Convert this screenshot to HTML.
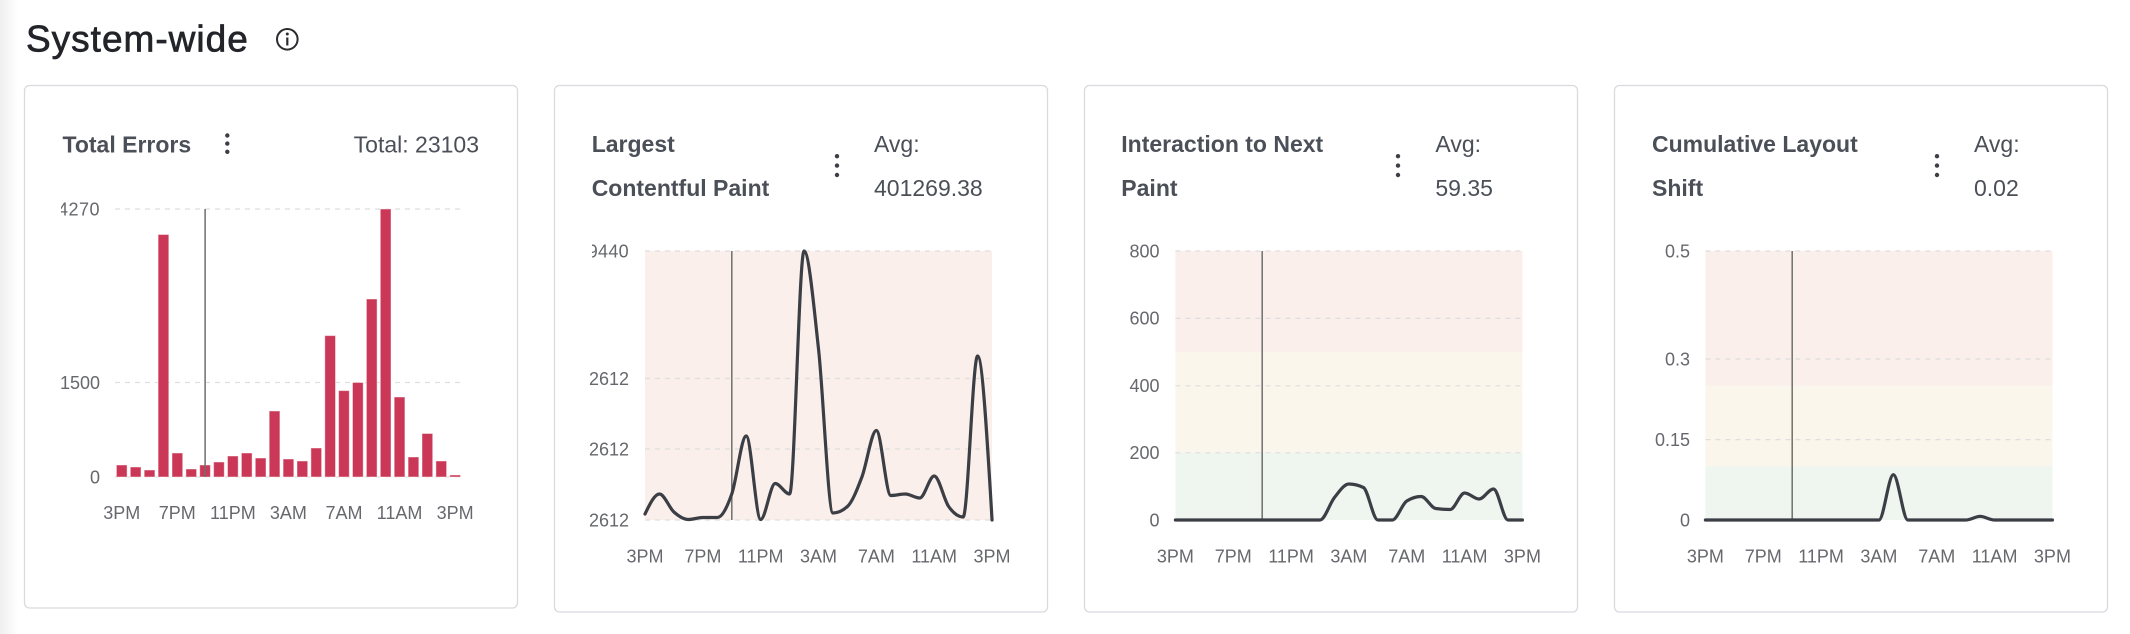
<!DOCTYPE html>
<html>
<head>
<meta charset="utf-8">
<style>
html,body{margin:0;padding:0;background:#fff;}
body{width:2130px;height:634px;overflow:hidden;}
svg{display:block;font-family:"Liberation Sans",sans-serif;}
.ax{font-size:18px;fill:#67686d;}
.tt{font-size:23px;font-weight:bold;fill:#4b4f57;}
.tv{font-size:23px;fill:#4b4f57;}
.grid{stroke:#dedede;stroke-width:1.2;stroke-dasharray:5 5;fill:none;}
.vl{stroke:#6f6f6f;stroke-width:1.5;}
.ln{fill:none;stroke:#3b3e45;stroke-width:3.2;stroke-linejoin:round;stroke-linecap:round;}
.card{fill:#fff;stroke:#d9dae0;stroke-width:1.3;}
.bar{fill:#cb3857;stroke:rgba(255,255,255,0.45);stroke-width:1;}
.dot{fill:#3c3f46;}
</style>
</head>
<body>
<svg width="2130" height="634" viewBox="0 0 2130 634" xmlns="http://www.w3.org/2000/svg">
<defs>
<linearGradient id="lg" x1="0" x2="1" y1="0" y2="0">
<stop offset="0" stop-color="#efeff1"/>
<stop offset="1" stop-color="#ffffff"/>
</linearGradient>
<clipPath id="c1"><rect x="61" y="0" width="460" height="634"/></clipPath>
<clipPath id="c2"><rect x="592" y="0" width="460" height="634"/></clipPath>
</defs>
<rect x="0" y="0" width="18" height="634" fill="url(#lg)"/>

<!-- Title -->
<text x="26" y="51.7" font-size="37" letter-spacing="1" fill="#222429" stroke="#222429" stroke-width="0.7">System-wide</text>
<circle cx="287.3" cy="39.3" r="10.3" fill="none" stroke="#2a2c30" stroke-width="2"/>
<circle cx="287.3" cy="34" r="1.5" fill="#2a2c30"/>
<line x1="287.3" y1="37.5" x2="287.3" y2="45.5" stroke="#2a2c30" stroke-width="2.2"/>

<!-- Cards -->
<rect class="card" x="24.5" y="85.5" width="493" height="522.5" rx="5"/>
<rect class="card" x="554.5" y="85.5" width="493" height="526.5" rx="5"/>
<rect class="card" x="1084.5" y="85.5" width="493" height="526.5" rx="5"/>
<rect class="card" x="1614.5" y="85.5" width="493" height="526.5" rx="5"/>

<!-- ===== Card 1 ===== -->
<text class="tt" x="62.5" y="152.3">Total Errors</text>
<circle class="dot" cx="227.3" cy="135.5" r="2.2"/>
<circle class="dot" cx="227.3" cy="143.6" r="2.2"/>
<circle class="dot" cx="227.3" cy="151.8" r="2.2"/>
<text class="tv" x="479" y="152.3" text-anchor="end">Total: 23103</text>

<line class="grid" x1="115" y1="209" x2="463" y2="209"/>
<line class="grid" x1="115" y1="382.5" x2="463" y2="382.5"/>
<line class="grid" x1="115" y1="477" x2="463" y2="477"/>
<g clip-path="url(#c1)">
<text class="ax" x="100" y="215.3" text-anchor="end" letter-spacing="0.5">4270</text>
</g>
<text class="ax" x="100" y="388.8" text-anchor="end">1500</text>
<text class="ax" x="100" y="483.3" text-anchor="end">0</text>

<g>
<rect class="bar" x="116.4" y="465" width="10.7" height="12"/>
<rect class="bar" x="130.3" y="467" width="10.7" height="10"/>
<rect class="bar" x="144.2" y="470" width="10.7" height="7"/>
<rect class="bar" x="158.1" y="234.5" width="10.7" height="242.5"/>
<rect class="bar" x="172.0" y="453" width="10.7" height="24"/>
<rect class="bar" x="185.9" y="469" width="10.7" height="8"/>
<rect class="bar" x="199.7" y="465" width="10.7" height="12"/>
<rect class="bar" x="213.6" y="462" width="10.7" height="15"/>
<rect class="bar" x="227.5" y="456" width="10.7" height="21"/>
<rect class="bar" x="241.4" y="453" width="10.7" height="24"/>
<rect class="bar" x="255.3" y="458" width="10.7" height="19"/>
<rect class="bar" x="269.2" y="411" width="10.7" height="66"/>
<rect class="bar" x="283.1" y="459" width="10.7" height="18"/>
<rect class="bar" x="297.0" y="461" width="10.7" height="16"/>
<rect class="bar" x="310.9" y="448" width="10.7" height="29"/>
<rect class="bar" x="324.8" y="335.6" width="10.7" height="141.4"/>
<rect class="bar" x="338.6" y="390.6" width="10.7" height="86.4"/>
<rect class="bar" x="352.5" y="382.5" width="10.7" height="94.5"/>
<rect class="bar" x="366.4" y="299" width="10.7" height="178"/>
<rect class="bar" x="380.3" y="209" width="10.7" height="268"/>
<rect class="bar" x="394.2" y="397" width="10.7" height="80"/>
<rect class="bar" x="408.1" y="457" width="10.7" height="20"/>
<rect class="bar" x="422.0" y="433.5" width="10.7" height="43.5"/>
<rect class="bar" x="435.9" y="461" width="10.7" height="16"/>
<rect class="bar" x="449.8" y="475" width="10.7" height="2"/>
</g>
<line class="vl" x1="205.1" y1="209" x2="205.1" y2="477"/>

<g class="ax" text-anchor="middle">
<text x="121.75" y="519">3PM</text>
<text x="177.3" y="519">7PM</text>
<text x="232.9" y="519">11PM</text>
<text x="288.4" y="519">3AM</text>
<text x="344" y="519">7AM</text>
<text x="399.5" y="519">11AM</text>
<text x="455.1" y="519">3PM</text>
</g>

<!-- ===== Card 2 ===== -->
<text class="tt" x="591.7" y="152.2">Largest</text>
<text class="tt" x="591.7" y="196.2">Contentful Paint</text>
<circle class="dot" cx="837" cy="156.2" r="2.2"/>
<circle class="dot" cx="837" cy="165.6" r="2.2"/>
<circle class="dot" cx="837" cy="175" r="2.2"/>
<text class="tv" x="874" y="152.2">Avg:</text>
<text class="tv" x="874" y="196.2">401269.38</text>

<rect x="645" y="251" width="347" height="269" fill="#faefea"/>
<line class="grid" x1="645" y1="251" x2="992" y2="251"/>
<line class="grid" x1="645" y1="378.5" x2="992" y2="378.5"/>
<line class="grid" x1="645" y1="449" x2="992" y2="449"/>
<line class="grid" x1="645" y1="520" x2="992" y2="520"/>
<g clip-path="url(#c2)">
<text class="ax" x="629" y="257.3" text-anchor="end" letter-spacing="0.3">9440</text>
</g>
<text class="ax" x="629" y="384.8" text-anchor="end">2612</text>
<text class="ax" x="629" y="455.3" text-anchor="end">2612</text>
<text class="ax" x="629" y="526.3" text-anchor="end">2612</text>
<line class="vl" x1="731.8" y1="251" x2="731.8" y2="520"/>
<path class="ln" d="M645,514 C649.82,504 654.64,494 659.46,494 C664.28,494 669.1,507.75 673.92,512 C678.74,516.25 683.56,519.5 688.38,519.5 C693.2,519.5 698.02,517.5 702.84,517.5 C707.66,517.5 712.48,517.5 717.3,517.5 C722.12,517.5 726.94,507.58 731.76,494 C736.58,480.42 741.4,436 746.22,436 C751.04,436 755.86,519.5 760.68,519.5 C765.5,519.5 770.32,483.5 775.14,483.5 C779.96,483.5 784.78,494 789.6,494 C794.42,494 799.24,251 804.06,251 C808.88,251 813.7,305.33 818.52,349 C823.34,392.67 828.16,513 832.98,513 C837.8,513 842.62,510.83 847.44,506.5 C852.26,502.17 857.08,489.67 861.9,477 C866.72,464.33 871.54,430.5 876.36,430.5 C881.18,430.5 886,495.5 890.82,495.5 C895.64,495.5 900.46,494 905.28,494 C910.1,494 914.92,498 919.74,498 C924.56,498 929.38,476 934.2,476 C939.02,476 943.84,499.67 948.66,506.5 C953.48,513.33 958.3,517 963.12,517 C967.94,517 972.76,356 977.58,356 C982.4,356 987.22,438 992.04,520"/>
<g class="ax" text-anchor="middle">
<text x="645" y="562.3">3PM</text>
<text x="702.84" y="562.3">7PM</text>
<text x="760.68" y="562.3">11PM</text>
<text x="818.52" y="562.3">3AM</text>
<text x="876.36" y="562.3">7AM</text>
<text x="934.2" y="562.3">11AM</text>
<text x="992.04" y="562.3">3PM</text>
</g>

<!-- ===== Card 3 ===== -->
<text class="tt" x="1121.3" y="152.2">Interaction to Next</text>
<text class="tt" x="1121.3" y="196.2">Paint</text>
<circle class="dot" cx="1398" cy="156.2" r="2.2"/>
<circle class="dot" cx="1398" cy="165.6" r="2.2"/>
<circle class="dot" cx="1398" cy="175" r="2.2"/>
<text class="tv" x="1435.4" y="152.2">Avg:</text>
<text class="tv" x="1435.4" y="196.2">59.35</text>

<rect x="1175.4" y="251" width="347" height="101" fill="#faefea"/>
<rect x="1175.4" y="352" width="347" height="100.8" fill="#faf6ec"/>
<rect x="1175.4" y="452.8" width="347" height="67.2" fill="#eef6ef"/>
<line class="grid" x1="1175.4" y1="251" x2="1522.4" y2="251"/>
<line class="grid" x1="1175.4" y1="318.4" x2="1522.4" y2="318.4"/>
<line class="grid" x1="1175.4" y1="385.8" x2="1522.4" y2="385.8"/>
<line class="grid" x1="1175.4" y1="452.8" x2="1522.4" y2="452.8"/>
<text class="ax" x="1159.5" y="257.3" text-anchor="end">800</text>
<text class="ax" x="1159.5" y="324.7" text-anchor="end">600</text>
<text class="ax" x="1159.5" y="392.1" text-anchor="end">400</text>
<text class="ax" x="1159.5" y="459.1" text-anchor="end">200</text>
<text class="ax" x="1159.5" y="526.3" text-anchor="end">0</text>
<line class="vl" x1="1262.2" y1="251" x2="1262.2" y2="520"/>
<path class="ln" d="M1175.4,520 L1320,520 C1324.82,520 1329.64,503.5 1334.46,497.5 C1339.28,491.5 1344.1,484 1348.92,484 C1353.74,484 1358.56,485.17 1363.38,487.5 C1368.2,489.83 1373.02,520 1377.84,520 L1392.3,520 C1397.12,520 1401.94,504 1406.76,501 C1411.58,498 1416.4,496.5 1421.22,496.5 C1426.04,496.5 1430.86,507.83 1435.68,508.5 C1440.5,509.17 1445.32,509.5 1450.14,509.5 C1454.96,509.5 1459.78,493 1464.6,493 C1469.42,493 1474.24,499 1479.06,499 C1483.88,499 1488.7,489 1493.52,489 C1498.34,489 1503.16,520 1507.98,520 L1522.44,520"/>
<g class="ax" text-anchor="middle">
<text x="1175.4" y="562.3">3PM</text>
<text x="1233.24" y="562.3">7PM</text>
<text x="1291.08" y="562.3">11PM</text>
<text x="1348.92" y="562.3">3AM</text>
<text x="1406.76" y="562.3">7AM</text>
<text x="1464.6" y="562.3">11AM</text>
<text x="1522.44" y="562.3">3PM</text>
</g>

<!-- ===== Card 4 ===== -->
<text class="tt" x="1652" y="152.2">Cumulative Layout</text>
<text class="tt" x="1652" y="196.2">Shift</text>
<circle class="dot" cx="1937" cy="156.2" r="2.2"/>
<circle class="dot" cx="1937" cy="165.6" r="2.2"/>
<circle class="dot" cx="1937" cy="175" r="2.2"/>
<text class="tv" x="1974" y="152.2">Avg:</text>
<text class="tv" x="1974" y="196.2">0.02</text>

<rect x="1705.4" y="251" width="347" height="134.8" fill="#faefea"/>
<rect x="1705.4" y="385.8" width="347" height="80.5" fill="#faf6ec"/>
<rect x="1705.4" y="466.3" width="347" height="53.7" fill="#eef6ef"/>
<line class="grid" x1="1705.4" y1="251" x2="2052.4" y2="251"/>
<line class="grid" x1="1705.4" y1="359" x2="2052.4" y2="359"/>
<line class="grid" x1="1705.4" y1="439.6" x2="2052.4" y2="439.6"/>
<text class="ax" x="1690" y="257.3" text-anchor="end">0.5</text>
<text class="ax" x="1690" y="365.3" text-anchor="end">0.3</text>
<text class="ax" x="1690" y="445.9" text-anchor="end">0.15</text>
<text class="ax" x="1690" y="526.3" text-anchor="end">0</text>
<line class="vl" x1="1792.2" y1="251" x2="1792.2" y2="520"/>
<path class="ln" d="M1705.4,520 L1878.92,520 C1883.74,520 1888.56,474.7 1893.38,474.7 C1898.2,474.7 1903.02,520 1907.84,520 L1965.68,520 C1970.5,520 1975.32,516.4 1980.14,516.4 C1984.96,516.4 1989.78,520 1994.6,520 L2052.44,520"/>
<g class="ax" text-anchor="middle">
<text x="1705.4" y="562.3">3PM</text>
<text x="1763.24" y="562.3">7PM</text>
<text x="1821.08" y="562.3">11PM</text>
<text x="1878.92" y="562.3">3AM</text>
<text x="1936.76" y="562.3">7AM</text>
<text x="1994.6" y="562.3">11AM</text>
<text x="2052.44" y="562.3">3PM</text>
</g>
</svg>
</body>
</html>
